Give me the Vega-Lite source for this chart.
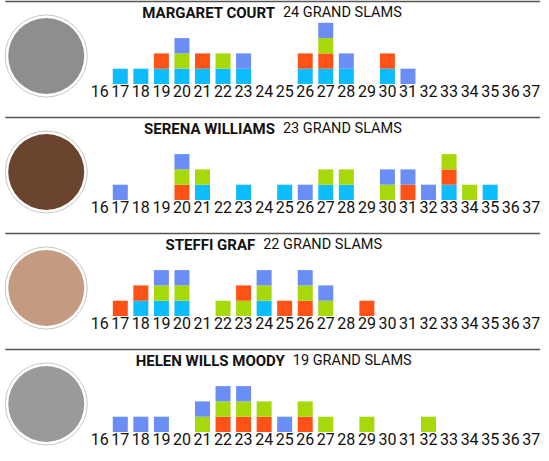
{
"$schema":"https://vega.github.io/schema/vega-lite/v6.json",
"padding":0,
"background":"#ffffff",
"spacing":0,
"config":{"view":{"stroke":null},"concat":{"spacing":0}},
"datasets":{
"ages":[{"age":16},{"age":17},{"age":18},{"age":19},{"age":20},{"age":21},{"age":22},{"age":23},{"age":24},{"age":25},{"age":26},{"age":27},{"age":28},{"age":29},{"age":30},{"age":31},{"age":32},{"age":33},{"age":34},{"age":35},{"age":36},{"age":37}],
"slams":[
{"player":"Court","age":17,"slam":"AO","k":1},
{"player":"Court","age":18,"slam":"AO","k":1},
{"player":"Court","age":19,"slam":"AO","k":1},{"player":"Court","age":19,"slam":"FO","k":2},
{"player":"Court","age":20,"slam":"AO","k":1},{"player":"Court","age":20,"slam":"W","k":2},{"player":"Court","age":20,"slam":"US","k":3},
{"player":"Court","age":21,"slam":"AO","k":1},{"player":"Court","age":21,"slam":"FO","k":2},
{"player":"Court","age":22,"slam":"AO","k":1},{"player":"Court","age":22,"slam":"W","k":2},
{"player":"Court","age":23,"slam":"AO","k":1},{"player":"Court","age":23,"slam":"US","k":2},
{"player":"Court","age":26,"slam":"AO","k":1},{"player":"Court","age":26,"slam":"FO","k":2},
{"player":"Court","age":27,"slam":"AO","k":1},{"player":"Court","age":27,"slam":"FO","k":2},{"player":"Court","age":27,"slam":"W","k":3},{"player":"Court","age":27,"slam":"US","k":4},
{"player":"Court","age":28,"slam":"AO","k":1},{"player":"Court","age":28,"slam":"US","k":2},
{"player":"Court","age":30,"slam":"AO","k":1},{"player":"Court","age":30,"slam":"FO","k":2},
{"player":"Court","age":31,"slam":"US","k":1},
{"player":"Serena","age":17,"slam":"US","k":1},
{"player":"Serena","age":20,"slam":"FO","k":1},{"player":"Serena","age":20,"slam":"W","k":2},{"player":"Serena","age":20,"slam":"US","k":3},
{"player":"Serena","age":21,"slam":"AO","k":1},{"player":"Serena","age":21,"slam":"W","k":2},
{"player":"Serena","age":23,"slam":"AO","k":1},
{"player":"Serena","age":25,"slam":"AO","k":1},
{"player":"Serena","age":26,"slam":"US","k":1},
{"player":"Serena","age":27,"slam":"AO","k":1},{"player":"Serena","age":27,"slam":"W","k":2},
{"player":"Serena","age":28,"slam":"AO","k":1},{"player":"Serena","age":28,"slam":"W","k":2},
{"player":"Serena","age":30,"slam":"W","k":1},{"player":"Serena","age":30,"slam":"US","k":2},
{"player":"Serena","age":31,"slam":"FO","k":1},{"player":"Serena","age":31,"slam":"US","k":2},
{"player":"Serena","age":32,"slam":"US","k":1},
{"player":"Serena","age":33,"slam":"AO","k":1},{"player":"Serena","age":33,"slam":"FO","k":2},{"player":"Serena","age":33,"slam":"W","k":3},
{"player":"Serena","age":34,"slam":"W","k":1},
{"player":"Serena","age":35,"slam":"AO","k":1},
{"player":"Graf","age":17,"slam":"FO","k":1},
{"player":"Graf","age":18,"slam":"AO","k":1},{"player":"Graf","age":18,"slam":"FO","k":2},
{"player":"Graf","age":19,"slam":"AO","k":1},{"player":"Graf","age":19,"slam":"W","k":2},{"player":"Graf","age":19,"slam":"US","k":3},
{"player":"Graf","age":20,"slam":"AO","k":1},{"player":"Graf","age":20,"slam":"W","k":2},{"player":"Graf","age":20,"slam":"US","k":3},
{"player":"Graf","age":22,"slam":"W","k":1},
{"player":"Graf","age":23,"slam":"W","k":1},{"player":"Graf","age":23,"slam":"FO","k":2},
{"player":"Graf","age":24,"slam":"AO","k":1},{"player":"Graf","age":24,"slam":"W","k":2},{"player":"Graf","age":24,"slam":"US","k":3},
{"player":"Graf","age":25,"slam":"FO","k":1},
{"player":"Graf","age":26,"slam":"FO","k":1},{"player":"Graf","age":26,"slam":"W","k":2},{"player":"Graf","age":26,"slam":"US","k":3},
{"player":"Graf","age":27,"slam":"W","k":1},{"player":"Graf","age":27,"slam":"US","k":2},
{"player":"Graf","age":29,"slam":"FO","k":1},
{"player":"Moody","age":17,"slam":"US","k":1},
{"player":"Moody","age":18,"slam":"US","k":1},
{"player":"Moody","age":19,"slam":"US","k":1},
{"player":"Moody","age":21,"slam":"W","k":1},{"player":"Moody","age":21,"slam":"US","k":2},
{"player":"Moody","age":22,"slam":"FO","k":1},{"player":"Moody","age":22,"slam":"W","k":2},{"player":"Moody","age":22,"slam":"US","k":3},
{"player":"Moody","age":23,"slam":"FO","k":1},{"player":"Moody","age":23,"slam":"W","k":2},{"player":"Moody","age":23,"slam":"US","k":3},
{"player":"Moody","age":24,"slam":"FO","k":1},{"player":"Moody","age":24,"slam":"W","k":2},
{"player":"Moody","age":25,"slam":"US","k":1},
{"player":"Moody","age":26,"slam":"FO","k":1},{"player":"Moody","age":26,"slam":"W","k":2},
{"player":"Moody","age":27,"slam":"W","k":1},
{"player":"Moody","age":29,"slam":"W","k":1},
{"player":"Moody","age":32,"slam":"W","k":1}
]},
"vconcat":[
{"width":549,"height":115,
"layer":[
{"data":{"values":[{"p":1}]},"mark":{"type":"rule","color":"#555555","strokeWidth":1.5},
 "encoding":{"x":{"datum":11.4,"type":"quantitative","scale":{"domain":[11.389,37.62],"nice":false,"zero":false},"axis":null},"x2":{"datum":37.43},"y":{"datum":5.39,"type":"quantitative","scale":{"domain":[-2.092,5.425],"nice":false,"zero":false},"axis":null}}},
{"data":{"values":[{"player":"Court"}]},"mark":{"type":"point","shape":"circle","filled":true,"fill":"#ffffff","stroke":"#c8c8c8","strokeWidth":1,"size":6724,"opacity":1},
 "encoding":{"x":{"datum":13.396,"type":"quantitative","scale":{"domain":[11.389,37.62],"nice":false,"zero":false},"axis":null},"y":{"datum":1.83,"type":"quantitative","scale":{"domain":[-2.092,5.425],"nice":false,"zero":false},"axis":null}}},
{"data":{"values":[{"player":"Court"}]},"mark":{"type":"point","shape":"circle","filled":true,"fill":"#8e8e8e","strokeWidth":0,"size":5776,"opacity":1},
 "encoding":{"x":{"datum":13.396,"type":"quantitative","scale":{"domain":[11.389,37.62],"nice":false,"zero":false},"axis":null},"y":{"datum":1.83,"type":"quantitative","scale":{"domain":[-2.092,5.425],"nice":false,"zero":false},"axis":null}}},
{"data":{"name":"slams"},"transform":[{"filter":{"field":"player","equal":"Court"}}],"mark":{"type":"bar","width":15},
 "encoding":{"x":{"field":"age","type":"quantitative","scale":{"domain":[11.389,37.62],"nice":false,"zero":false},"axis":null},
  "y":{"aggregate":"count","type":"quantitative","stack":"zero","scale":{"domain":[-2.092,5.425],"nice":false,"zero":false},"axis":null},
  "color":{"field":"slam","type":"nominal","scale":{"domain":["AO","FO","W","US"],"range":["#0cbcfc","#ff5216","#a6d80a","#6a8ef6"]},"legend":null},
  "order":{"field":"k","type":"quantitative"}}},
{"data":{"name":"ages"},"mark":{"type":"text","font":"Roboto","fontSize":16,"color":"#111111","baseline":"middle"},
 "encoding":{"x":{"field":"age","type":"quantitative","scale":{"domain":[11.389,37.62],"nice":false,"zero":false},"axis":null},"y":{"datum":-0.5,"type":"quantitative","scale":{"domain":[-2.092,5.425],"nice":false,"zero":false},"axis":null},"text":{"field":"age"}}},
{"data":{"values":[{"name":"MARGARET COURT","total":"24 GRAND SLAMS"}]},"mark":{"type":"text","font":"Roboto","fontSize":15,"fontWeight":"bold","color":"#111111","align":"right","baseline":"middle","dx":-4},
 "encoding":{"x":{"datum":24.72,"type":"quantitative","scale":{"domain":[11.389,37.62],"nice":false,"zero":false},"axis":null},"y":{"datum":4.62,"type":"quantitative","scale":{"domain":[-2.092,5.425],"nice":false,"zero":false},"axis":null},"text":{"field":"name"}}},
{"data":{"values":[{"name":"MARGARET COURT","total":"24 GRAND SLAMS"}]},"mark":{"type":"text","font":"Roboto","fontSize":14.5,"color":"#111111","align":"left","baseline":"middle","dx":4},
 "encoding":{"x":{"datum":24.72,"type":"quantitative","scale":{"domain":[11.389,37.62],"nice":false,"zero":false},"axis":null},"y":{"datum":4.62,"type":"quantitative","scale":{"domain":[-2.092,5.425],"nice":false,"zero":false},"axis":null},"text":{"field":"total"}}}
]},
{"width":549,"height":115,
"layer":[
{"data":{"values":[{"p":1}]},"mark":{"type":"rule","color":"#555555","strokeWidth":1.5},
 "encoding":{"x":{"datum":11.4,"type":"quantitative","scale":{"domain":[11.389,37.62],"nice":false,"zero":false},"axis":null},"x2":{"datum":37.43},"y":{"datum":5.39,"type":"quantitative","scale":{"domain":[-2.092,5.425],"nice":false,"zero":false},"axis":null}}},
{"data":{"values":[{"player":"Serena"}]},"mark":{"type":"point","shape":"circle","filled":true,"fill":"#ffffff","stroke":"#c8c8c8","strokeWidth":1,"size":6724,"opacity":1},
 "encoding":{"x":{"datum":13.396,"type":"quantitative","scale":{"domain":[11.389,37.62],"nice":false,"zero":false},"axis":null},"y":{"datum":1.83,"type":"quantitative","scale":{"domain":[-2.092,5.425],"nice":false,"zero":false},"axis":null}}},
{"data":{"values":[{"player":"Serena"}]},"mark":{"type":"point","shape":"circle","filled":true,"fill":"#6b4430","strokeWidth":0,"size":5776,"opacity":1},
 "encoding":{"x":{"datum":13.396,"type":"quantitative","scale":{"domain":[11.389,37.62],"nice":false,"zero":false},"axis":null},"y":{"datum":1.83,"type":"quantitative","scale":{"domain":[-2.092,5.425],"nice":false,"zero":false},"axis":null}}},
{"data":{"name":"slams"},"transform":[{"filter":{"field":"player","equal":"Serena"}}],"mark":{"type":"bar","width":15},
 "encoding":{"x":{"field":"age","type":"quantitative","scale":{"domain":[11.389,37.62],"nice":false,"zero":false},"axis":null},
  "y":{"aggregate":"count","type":"quantitative","stack":"zero","scale":{"domain":[-2.092,5.425],"nice":false,"zero":false},"axis":null},
  "color":{"field":"slam","type":"nominal","scale":{"domain":["AO","FO","W","US"],"range":["#0cbcfc","#ff5216","#a6d80a","#6a8ef6"]},"legend":null},
  "order":{"field":"k","type":"quantitative"}}},
{"data":{"name":"ages"},"mark":{"type":"text","font":"Roboto","fontSize":16,"color":"#111111","baseline":"middle"},
 "encoding":{"x":{"field":"age","type":"quantitative","scale":{"domain":[11.389,37.62],"nice":false,"zero":false},"axis":null},"y":{"datum":-0.5,"type":"quantitative","scale":{"domain":[-2.092,5.425],"nice":false,"zero":false},"axis":null},"text":{"field":"age"}}},
{"data":{"values":[{"name":"SERENA WILLIAMS","total":"23 GRAND SLAMS"}]},"mark":{"type":"text","font":"Roboto","fontSize":15,"fontWeight":"bold","color":"#111111","align":"right","baseline":"middle","dx":-4},
 "encoding":{"x":{"datum":24.72,"type":"quantitative","scale":{"domain":[11.389,37.62],"nice":false,"zero":false},"axis":null},"y":{"datum":4.62,"type":"quantitative","scale":{"domain":[-2.092,5.425],"nice":false,"zero":false},"axis":null},"text":{"field":"name"}}},
{"data":{"values":[{"name":"SERENA WILLIAMS","total":"23 GRAND SLAMS"}]},"mark":{"type":"text","font":"Roboto","fontSize":14.5,"color":"#111111","align":"left","baseline":"middle","dx":4},
 "encoding":{"x":{"datum":24.72,"type":"quantitative","scale":{"domain":[11.389,37.62],"nice":false,"zero":false},"axis":null},"y":{"datum":4.62,"type":"quantitative","scale":{"domain":[-2.092,5.425],"nice":false,"zero":false},"axis":null},"text":{"field":"total"}}}
]},
{"width":549,"height":115,
"layer":[
{"data":{"values":[{"p":1}]},"mark":{"type":"rule","color":"#555555","strokeWidth":1.5},
 "encoding":{"x":{"datum":11.4,"type":"quantitative","scale":{"domain":[11.389,37.62],"nice":false,"zero":false},"axis":null},"x2":{"datum":37.43},"y":{"datum":5.39,"type":"quantitative","scale":{"domain":[-2.092,5.425],"nice":false,"zero":false},"axis":null}}},
{"data":{"values":[{"player":"Graf"}]},"mark":{"type":"point","shape":"circle","filled":true,"fill":"#ffffff","stroke":"#c8c8c8","strokeWidth":1,"size":6724,"opacity":1},
 "encoding":{"x":{"datum":13.396,"type":"quantitative","scale":{"domain":[11.389,37.62],"nice":false,"zero":false},"axis":null},"y":{"datum":1.83,"type":"quantitative","scale":{"domain":[-2.092,5.425],"nice":false,"zero":false},"axis":null}}},
{"data":{"values":[{"player":"Graf"}]},"mark":{"type":"point","shape":"circle","filled":true,"fill":"#c49a80","strokeWidth":0,"size":5776,"opacity":1},
 "encoding":{"x":{"datum":13.396,"type":"quantitative","scale":{"domain":[11.389,37.62],"nice":false,"zero":false},"axis":null},"y":{"datum":1.83,"type":"quantitative","scale":{"domain":[-2.092,5.425],"nice":false,"zero":false},"axis":null}}},
{"data":{"name":"slams"},"transform":[{"filter":{"field":"player","equal":"Graf"}}],"mark":{"type":"bar","width":15},
 "encoding":{"x":{"field":"age","type":"quantitative","scale":{"domain":[11.389,37.62],"nice":false,"zero":false},"axis":null},
  "y":{"aggregate":"count","type":"quantitative","stack":"zero","scale":{"domain":[-2.092,5.425],"nice":false,"zero":false},"axis":null},
  "color":{"field":"slam","type":"nominal","scale":{"domain":["AO","FO","W","US"],"range":["#0cbcfc","#ff5216","#a6d80a","#6a8ef6"]},"legend":null},
  "order":{"field":"k","type":"quantitative"}}},
{"data":{"name":"ages"},"mark":{"type":"text","font":"Roboto","fontSize":16,"color":"#111111","baseline":"middle"},
 "encoding":{"x":{"field":"age","type":"quantitative","scale":{"domain":[11.389,37.62],"nice":false,"zero":false},"axis":null},"y":{"datum":-0.5,"type":"quantitative","scale":{"domain":[-2.092,5.425],"nice":false,"zero":false},"axis":null},"text":{"field":"age"}}},
{"data":{"values":[{"name":"STEFFI GRAF","total":"22 GRAND SLAMS"}]},"mark":{"type":"text","font":"Roboto","fontSize":15,"fontWeight":"bold","color":"#111111","align":"right","baseline":"middle","dx":-4},
 "encoding":{"x":{"datum":23.76,"type":"quantitative","scale":{"domain":[11.389,37.62],"nice":false,"zero":false},"axis":null},"y":{"datum":4.62,"type":"quantitative","scale":{"domain":[-2.092,5.425],"nice":false,"zero":false},"axis":null},"text":{"field":"name"}}},
{"data":{"values":[{"name":"STEFFI GRAF","total":"22 GRAND SLAMS"}]},"mark":{"type":"text","font":"Roboto","fontSize":14.5,"color":"#111111","align":"left","baseline":"middle","dx":4},
 "encoding":{"x":{"datum":23.76,"type":"quantitative","scale":{"domain":[11.389,37.62],"nice":false,"zero":false},"axis":null},"y":{"datum":4.62,"type":"quantitative","scale":{"domain":[-2.092,5.425],"nice":false,"zero":false},"axis":null},"text":{"field":"total"}}}
]},
{"width":549,"height":115,
"layer":[
{"data":{"values":[{"p":1}]},"mark":{"type":"rule","color":"#555555","strokeWidth":1.5},
 "encoding":{"x":{"datum":11.4,"type":"quantitative","scale":{"domain":[11.389,37.62],"nice":false,"zero":false},"axis":null},"x2":{"datum":37.43},"y":{"datum":5.39,"type":"quantitative","scale":{"domain":[-2.092,5.425],"nice":false,"zero":false},"axis":null}}},
{"data":{"values":[{"player":"Moody"}]},"mark":{"type":"point","shape":"circle","filled":true,"fill":"#ffffff","stroke":"#c8c8c8","strokeWidth":1,"size":6724,"opacity":1},
 "encoding":{"x":{"datum":13.396,"type":"quantitative","scale":{"domain":[11.389,37.62],"nice":false,"zero":false},"axis":null},"y":{"datum":1.83,"type":"quantitative","scale":{"domain":[-2.092,5.425],"nice":false,"zero":false},"axis":null}}},
{"data":{"values":[{"player":"Moody"}]},"mark":{"type":"point","shape":"circle","filled":true,"fill":"#9a9a9a","strokeWidth":0,"size":5776,"opacity":1},
 "encoding":{"x":{"datum":13.396,"type":"quantitative","scale":{"domain":[11.389,37.62],"nice":false,"zero":false},"axis":null},"y":{"datum":1.83,"type":"quantitative","scale":{"domain":[-2.092,5.425],"nice":false,"zero":false},"axis":null}}},
{"data":{"name":"slams"},"transform":[{"filter":{"field":"player","equal":"Moody"}}],"mark":{"type":"bar","width":15},
 "encoding":{"x":{"field":"age","type":"quantitative","scale":{"domain":[11.389,37.62],"nice":false,"zero":false},"axis":null},
  "y":{"aggregate":"count","type":"quantitative","stack":"zero","scale":{"domain":[-2.092,5.425],"nice":false,"zero":false},"axis":null},
  "color":{"field":"slam","type":"nominal","scale":{"domain":["AO","FO","W","US"],"range":["#0cbcfc","#ff5216","#a6d80a","#6a8ef6"]},"legend":null},
  "order":{"field":"k","type":"quantitative"}}},
{"data":{"name":"ages"},"mark":{"type":"text","font":"Roboto","fontSize":16,"color":"#111111","baseline":"middle"},
 "encoding":{"x":{"field":"age","type":"quantitative","scale":{"domain":[11.389,37.62],"nice":false,"zero":false},"axis":null},"y":{"datum":-0.5,"type":"quantitative","scale":{"domain":[-2.092,5.425],"nice":false,"zero":false},"axis":null},"text":{"field":"age"}}},
{"data":{"values":[{"name":"HELEN WILLS MOODY","total":"19 GRAND SLAMS"}]},"mark":{"type":"text","font":"Roboto","fontSize":15,"fontWeight":"bold","color":"#111111","align":"right","baseline":"middle","dx":-4},
 "encoding":{"x":{"datum":25.2,"type":"quantitative","scale":{"domain":[11.389,37.62],"nice":false,"zero":false},"axis":null},"y":{"datum":4.62,"type":"quantitative","scale":{"domain":[-2.092,5.425],"nice":false,"zero":false},"axis":null},"text":{"field":"name"}}},
{"data":{"values":[{"name":"HELEN WILLS MOODY","total":"19 GRAND SLAMS"}]},"mark":{"type":"text","font":"Roboto","fontSize":14.5,"color":"#111111","align":"left","baseline":"middle","dx":4},
 "encoding":{"x":{"datum":25.2,"type":"quantitative","scale":{"domain":[11.389,37.62],"nice":false,"zero":false},"axis":null},"y":{"datum":4.62,"type":"quantitative","scale":{"domain":[-2.092,5.425],"nice":false,"zero":false},"axis":null},"text":{"field":"total"}}}
]}
]
}
